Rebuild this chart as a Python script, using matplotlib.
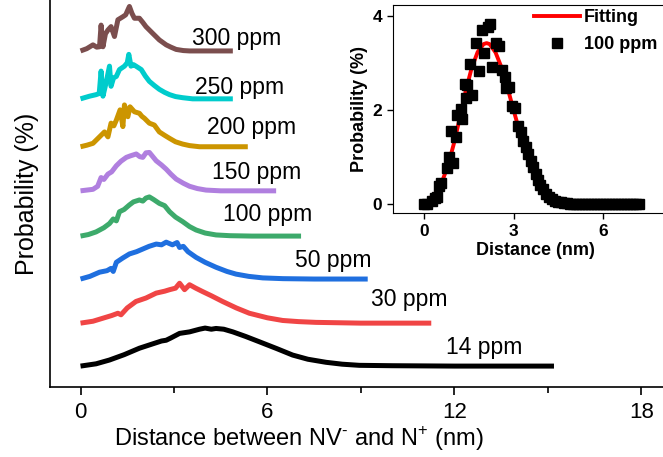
"""Nearest-neighbour NV- / N+ distance distributions for several nitrogen concentrations."""

import matplotlib

matplotlib.use("Agg")

import matplotlib.pyplot as plt
from matplotlib.lines import Line2D

plt.rcParams["font.family"] = ["Liberation Sans", "DejaVu Sans"]
plt.rcParams["mathtext.fontset"] = "custom"
plt.rcParams["mathtext.rm"] = "Liberation Sans"

# ---- main panel data (height of each curve above its own baseline) ----
labels = ["14 ppm", "30 ppm", "50 ppm", "100 ppm", "150 ppm", "200 ppm", "250 ppm", "300 ppm"]
colors = ["#000000", "#F04545", "#1F6FDF", "#3DAA6B", "#B07FDF", "#CC9500", "#00CCCC", "#7B4E4E"]

x_14 = [0, 0.5, 0.93, 1.4, 1.89, 2.3, 2.6, 2.75, 2.9, 3.18, 3.5, 3.82, 4.0, 4.2, 4.35,
        4.6, 4.89, 5.3, 5.74, 6.3, 6.81, 7.3, 7.88, 8.4, 8.95, 10.0, 12.0, 15.2]
h_14 = [0, 0.06, 0.16, 0.3, 0.47, 0.58, 0.66, 0.68, 0.74, 0.86, 0.9, 0.97, 1.0, 0.97, 0.99,
        0.97, 0.9, 0.78, 0.64, 0.46, 0.29, 0.18, 0.1, 0.05, 0.02, 0.01, 0.0, 0.0]

x_30 = [0, 0.4, 0.72, 1.0, 1.2, 1.3, 1.5, 1.78, 2.1, 2.43, 2.7, 2.86, 3.05, 3.18, 3.34,
        3.5, 3.7, 3.92, 4.2, 4.56, 5.0, 5.42, 6.0, 6.49, 7.0, 7.56, 9.0, 11.26]
h_30 = [0, 0.05, 0.13, 0.2, 0.26, 0.22, 0.4, 0.57, 0.66, 0.79, 0.84, 0.88, 0.92, 1.05, 0.88,
        1.01, 0.92, 0.83, 0.72, 0.57, 0.4, 0.26, 0.14, 0.07, 0.04, 0.02, 0.0, 0.0]

x_50 = [0, 0.3, 0.61, 0.85, 0.98, 1.05, 1.15, 1.35, 1.57, 1.8, 2.0, 2.2, 2.43, 2.6, 2.75,
        2.95, 3.1, 3.18, 3.3, 3.45, 3.71, 4.0, 4.35, 4.7, 4.99, 5.4, 5.85, 6.5, 7.5, 9.22]
h_50 = [0, 0.07, 0.18, 0.22, 0.28, 0.2, 0.44, 0.55, 0.66, 0.72, 0.79, 0.86, 0.92, 0.9, 0.97,
        0.9, 0.96, 0.83, 0.86, 0.72, 0.57, 0.44, 0.31, 0.2, 0.13, 0.07, 0.03, 0.01, 0.0, 0.0]

x_100 = [0, 0.25, 0.5, 0.75, 0.93, 1.05, 1.15, 1.25, 1.4, 1.57, 1.7, 1.89, 2.0, 2.1, 2.21,
         2.35, 2.53, 2.7, 2.86, 3.05, 3.28, 3.5, 3.71, 4.0, 4.35, 4.8, 5.5, 7.08]
h_100 = [0, 0.04, 0.11, 0.22, 0.33, 0.45, 0.4, 0.64, 0.7, 0.82, 0.9, 0.95, 0.92, 1.0, 1.03,
         0.96, 0.86, 0.8, 0.64, 0.5, 0.38, 0.25, 0.16, 0.08, 0.03, 0.01, 0.0, 0.0]

x_150 = [0, 0.2, 0.4, 0.55, 0.66, 0.75, 0.88, 1.0, 1.15, 1.3, 1.47, 1.6, 1.79, 1.9, 2.0,
         2.1, 2.21, 2.3, 2.43, 2.6, 2.75, 2.9, 3.07, 3.3, 3.5, 3.75, 4.03, 4.5, 6.28]
h_150 = [0, 0.02, 0.04, 0.12, 0.35, 0.3, 0.44, 0.5, 0.66, 0.78, 0.88, 0.92, 0.97, 0.9, 0.88,
         1.0, 1.01, 0.92, 0.79, 0.68, 0.57, 0.44, 0.31, 0.2, 0.12, 0.06, 0.02, 0.0, 0.0]

x_200 = [0, 0.2, 0.4, 0.61, 0.77, 0.88, 0.98, 1.07, 1.15, 1.27, 1.36, 1.41, 1.52, 1.59,
         1.73, 1.89, 1.97, 2.05, 2.21, 2.37, 2.53, 2.7, 2.86, 3.05, 3.28, 3.5, 3.82, 5.37]
h_200 = [0, 0.04, 0.09, 0.26, 0.39, 0.26, 0.62, 0.55, 0.7, 0.97, 0.53, 1.1, 0.79, 1.05,
         0.92, 0.88, 0.8, 0.75, 0.62, 0.57, 0.39, 0.3, 0.22, 0.13, 0.07, 0.03, 0.0, 0.0]

x_250 = [0, 0.29, 0.5, 0.6, 0.66, 0.72, 0.82, 0.93, 0.98, 1.06, 1.15, 1.25, 1.41, 1.5, 1.55,
         1.62, 1.7, 1.78, 1.95, 2.08, 2.21, 2.37, 2.53, 2.7, 2.86, 3.05, 3.28, 3.6, 4.89]
h_250 = [0, 0.07, 0.11, 0.14, 0.73, 0.07, 0.42, 0.86, 0.33, 0.55, 0.59, 0.77, 0.86, 0.95, 1.17,
         0.86, 0.9, 0.86, 0.77, 0.6, 0.46, 0.35, 0.25, 0.17, 0.11, 0.06, 0.03, 0.0, 0.0]

x_300 = [0, 0.2, 0.4, 0.52, 0.61, 0.66, 0.72, 0.8, 0.88, 0.98, 1.09, 1.2, 1.36, 1.45, 1.52,
         1.57, 1.65, 1.73, 1.89, 2.0, 2.1, 2.32, 2.53, 2.75, 2.9, 3.07, 3.3, 3.5, 4.89]
h_300 = [0, 0.06, 0.16, 0.1, 0.11, 0.68, 0.11, 0.45, 0.55, 0.64, 0.38, 0.82, 0.9, 0.95, 1.08,
         1.17, 0.99, 0.86, 0.86, 0.75, 0.64, 0.46, 0.29, 0.16, 0.1, 0.04, 0.01, 0.0, 0.0]

curves_x = [x_14, x_30, x_50, x_100, x_150, x_200, x_250, x_300]
curves_h = [h_14, h_30, h_50, h_100, h_150, h_200, h_250, h_300]

# ---- inset data: 100 ppm histogram and its fit ----
inset_x = [0.0, 0.11, 0.26, 0.37, 0.45, 0.51, 0.59, 0.76, 0.85, 0.92, 0.98, 1.07, 1.12,
           1.23, 1.28, 1.37, 1.40, 1.46, 1.56, 1.60, 1.74, 1.84, 1.94, 2.01, 2.16, 2.21,
           2.27, 2.41, 2.50, 2.62, 2.71, 2.75, 2.86, 2.96, 3.05, 3.16, 3.24, 3.31, 3.42,
           3.50, 3.58, 3.66, 3.74, 3.82, 3.90, 4.0, 4.1, 4.2, 4.3, 4.4, 4.5, 4.6, 4.7,
           4.8, 4.9, 5.0, 5.1, 5.2, 5.3, 5.4, 5.5, 5.6, 5.7, 5.8, 5.9, 6.0, 6.1, 6.2,
           6.3, 6.4, 6.5, 6.6, 6.7, 6.8, 6.9, 7.0, 7.1, 7.2]
inset_y = [0.0, 0.0, 0.07, 0.12, 0.16, 0.38, 0.45, 0.76, 1.0, 1.55, 0.87, 1.43, 1.89,
           2.03, 1.80, 2.55, 2.25, 2.52, 2.97, 2.32, 3.42, 2.82, 3.70, 3.21, 3.76, 3.83,
           2.92, 3.42, 3.35, 2.85, 2.70, 2.46, 2.48, 2.09, 2.04, 1.66, 1.54, 1.33, 1.22,
           1.06, 0.92, 0.78, 0.64, 0.52, 0.41, 0.31, 0.22, 0.15, 0.10, 0.07, 0.05, 0.035,
           0.025, 0.015, 0.01, 0.007, 0.005, 0.0, 0.0, 0.0, 0.0, 0.0, 0.0, 0.0, 0.0, 0.0,
           0.0, 0.0, 0.0, 0.0, 0.0, 0.0, 0.0, 0.0, 0.0, 0.0, 0.0, 0.0]

fit_x = [0.2, 0.4, 0.6, 0.8, 1.0, 1.2, 1.4, 1.6, 1.8, 2.0, 2.1, 2.2, 2.4, 2.6, 2.8, 3.0,
         3.2, 3.4, 3.6, 3.8, 4.0, 4.2, 4.4]
fit_y = [0.12, 0.24, 0.46, 0.8, 1.27, 1.82, 2.4, 2.89, 3.23, 3.4, 3.42, 3.4, 3.22, 2.9,
         2.47, 2.0, 1.55, 1.14, 0.8, 0.53, 0.33, 0.19, 0.1]

# ---- layout constants ----
BASELINES = [0.55, 1.68, 2.84, 3.97, 5.16, 6.32, 7.58, 8.84]
LABEL_POS = [(11.74, 1.03), (9.34, 2.29), (6.9, 3.34), (4.56, 4.55),
             (4.23, 5.63), (4.07, 6.82), (3.66, 7.89), (3.59, 9.16)]

fig = plt.figure(figsize=(6.63, 4.57), dpi=100)
ax = fig.add_axes([50 / 663, 70 / 457, 613 / 663, 387 / 457])

for xs, hs, base, color in zip(curves_x, curves_h, BASELINES, colors):
    ax.plot(xs, [base + h for h in hs], color=color, linewidth=3.6,
            solid_joinstyle="round", solid_capstyle="butt")

for label, (tx, ty) in zip(labels, LABEL_POS):
    ax.text(tx, ty, label, fontsize=16.5, va="center", ha="left")

ax.set_xlim(-0.98, 18.7)
ax.set_ylim(0, 10.18)
ax.set_xticks([0, 6, 12, 18])
ax.set_xticks([3, 9, 15], minor=True)
ax.set_yticks([])
ax.tick_params(axis="x", which="major", length=6, width=1.2, labelsize=16, pad=5)
ax.tick_params(axis="x", which="minor", length=4, width=1.2)
ax.spines["top"].set_visible(False)
ax.spines["right"].set_visible(False)
ax.spines["left"].set_linewidth(1.2)
ax.spines["bottom"].set_linewidth(1.2)
ax.set_xlabel(r"Distance between NV$^{\text{-}}$ and N$^{\text{+}}$ (nm)", fontsize=17)
ax.xaxis.set_label_coords(0.406, -0.097)
ax.set_ylabel("Probability (%)", fontsize=18, labelpad=8)

# ---- inset ----
ins = fig.add_axes([393 / 663, 244 / 457, 285 / 663, 208 / 457])
ins.plot(fit_x, fit_y, color="#FF0000", linewidth=2.8, zorder=2)
ins.plot(inset_x, inset_y, linestyle="none", marker="s", markersize=6.5,
         color="black", zorder=3)
ins.set_xlim(-1.03, 8.5)
ins.set_ylim(-0.19, 4.23)
ins.set_xticks([0, 3, 6])
ins.set_yticks([0, 2, 4])
ins.tick_params(length=4, width=1.0, labelsize=12.5, pad=4)
for t in ins.get_xticklabels() + ins.get_yticklabels():
    t.set_fontweight("bold")
ins.set_xlabel("Distance (nm)", fontsize=13, fontweight="bold", labelpad=2)
ins.set_ylabel("Probability (%)", fontsize=13, fontweight="bold", labelpad=3)

handles = [Line2D([], [], color="#FF0000", linewidth=2.8),
           Line2D([], [], color="black", marker="s", markersize=6.5, linestyle="none")]
fig.legend(handles, ["Fitting", "100 ppm"], loc="upper left",
           bbox_to_anchor=(534 / 663, 1 - 9 / 457), frameon=False, borderpad=0,
           borderaxespad=0, handlelength=2.55, handletextpad=0.2, labelspacing=0.55,
           prop={"size": 13, "weight": "bold"})

fig.savefig("out.png", dpi=100)
